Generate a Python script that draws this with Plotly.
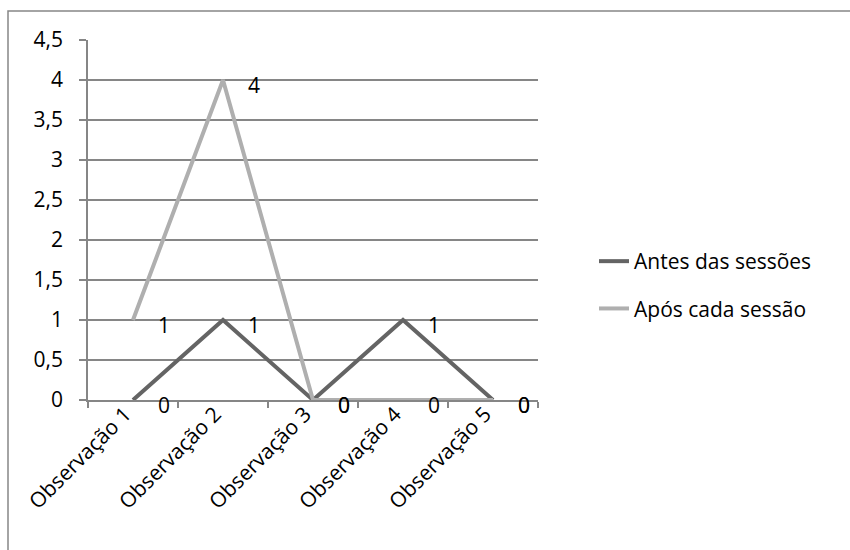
import plotly.graph_objects as go

# Data
categorias = ["Observação 1", "Observação 2", "Observação 3", "Observação 4", "Observação 5"]
antes = [0, 1, 0, 1, 0]
apos = [1, 4, 0, 0, 0]
nomes = ["Antes das sessões", "Após cada sessão"]
cores = ["#646464", "#AFAFAF"]

FONT = "Open Sans"
FS = 21
W, H = 850, 550
L, R, T, B = 88, 312, 40, 150   # plot area in pixels
pw, ph = W - L - R, H - T - B

fig = go.Figure()
for nome, vals, cor, grp in [(nomes[0], antes, cores[0], "a"), (nomes[1], apos, cores[1], "b")]:
    fig.add_trace(go.Scatter(
        x=categorias, y=vals, mode="lines", name=nome,
        line=dict(color=cor, width=4), legendgroup=grp,
    ))

# value labels to the right of each point
for vals in (apos, antes):
    for c, v in zip(categorias, vals):
        fig.add_annotation(x=c, y=v, xref="x", yref="y", text=str(v),
                           showarrow=False, xshift=31, yshift=-5,
                           font=dict(family=FONT, size=FS, color="#000"))

def px_x(p):
    return (p - L) / pw

def px_y(p):
    return (H - B - p) / ph

# outer chart frame
fig.add_shape(type="rect", xref="paper", yref="paper",
              x0=px_x(8), x1=px_x(870), y0=px_y(570), y1=px_y(11),
              line=dict(color="#868686", width=1.5), fillcolor="rgba(0,0,0,0)")

fig.update_layout(
    width=W, height=H,
    margin=dict(l=L, r=R, t=T, b=B),
    paper_bgcolor="white", plot_bgcolor="white",
    separators=", ",
    font=dict(family=FONT, size=FS, color="#000"),
    showlegend=True,
    legend=dict(x=px_x(594), y=px_y(241), xanchor="left", yanchor="top",
                traceorder="grouped", tracegroupgap=17,
                font=dict(family=FONT, size=FS, color="#000"),
                bgcolor="rgba(0,0,0,0)"),
    xaxis=dict(
        type="category", range=[-0.5, 4.5], tickson="boundaries",
        showgrid=False, showline=True, linecolor="#868686", linewidth=1.5,
        ticks="outside", ticklen=6, tickcolor="#868686", tickwidth=1.5,
        tickangle=-45, tickfont=dict(family=FONT, size=FS, color="#000"),
        ticklabelshift=-8, ticklabelstandoff=-8,
        zeroline=False,
    ),
    yaxis=dict(
        range=[0, 4.5], dtick=0.5, tick0=0,
        showgrid=True, gridcolor="#868686", gridwidth=1.5,
        showline=True, linecolor="#868686", linewidth=1.5,
        ticks="outside", ticklen=7, tickcolor="#868686", tickwidth=1.5,
        ticklabelstandoff=12, tickfont=dict(family=FONT, size=FS, color="#000"),
        zeroline=False,
    ),
)

fig.write_html("out.html")
